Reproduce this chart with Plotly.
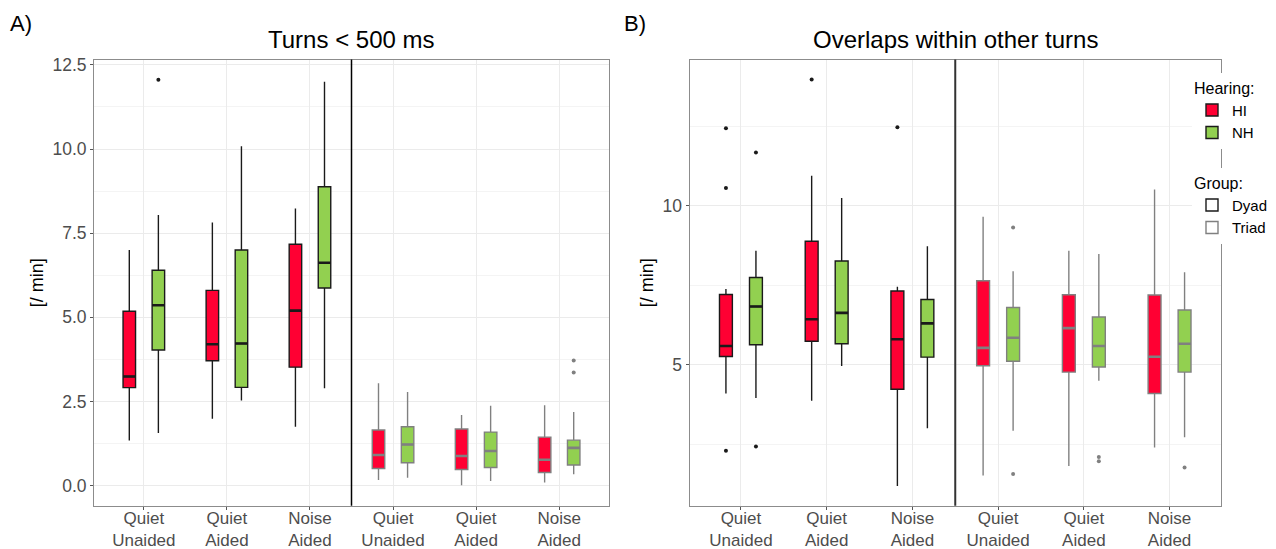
import plotly.graph_objects as go

# ---------------- data ----------------
conditions = ["Quiet Unaided", "Quiet Aided", "Noise Aided"]
tick_text = ["Quiet<br>Unaided", "Quiet<br>Aided", "Noise<br>Aided"]
groups = ["Dyad", "Triad"]
hearing = ["HI", "NH"]

# Panel A: Turns < 500 ms  (lower whisker, Q1, median, Q3, upper whisker)
turns_HI_dyad = dict(low=[1.34, 1.99, 1.75], q1=[2.91, 3.71, 3.52], med=[3.24, 4.20, 5.20],
                     q3=[5.18, 5.80, 7.17], high=[7.00, 7.82, 8.23])
turns_NH_dyad = dict(low=[1.56, 2.53, 2.89], q1=[4.03, 2.92, 5.87], med=[5.36, 4.22, 6.62],
                     q3=[6.40, 7.00, 8.88], high=[8.04, 10.08, 12.00])
turns_HI_triad = dict(low=[0.17, 0.01, 0.09], q1=[0.51, 0.48, 0.39], med=[0.91, 0.88, 0.77],
                      q3=[1.65, 1.68, 1.44], high=[3.04, 2.10, 2.39])
turns_NH_triad = dict(low=[0.23, 0.14, 0.34], q1=[0.68, 0.54, 0.61], med=[1.22, 1.03, 1.12],
                      q3=[1.75, 1.59, 1.35], high=[2.78, 2.37, 2.19])
turns_HI_dyad_out = []
turns_NH_dyad_out = [("Quiet Unaided", 12.06)]
turns_HI_triad_out = []
turns_NH_triad_out = [("Noise Aided", 3.72), ("Noise Aided", 3.36)]

# Panel B: Overlaps within other turns
overl_HI_dyad = dict(low=[4.10, 3.87, 1.19], q1=[5.26, 5.74, 4.23], med=[5.59, 6.43, 5.80],
                     q3=[7.21, 8.88, 7.32], high=[7.38, 10.94, 7.45])
overl_NH_dyad = dict(low=[3.96, 4.96, 3.01], q1=[5.63, 5.66, 5.24], med=[6.83, 6.63, 6.30],
                     q3=[7.74, 8.26, 7.05], high=[8.58, 10.24, 8.72])
overl_HI_triad = dict(low=[1.52, 1.82, 2.40], q1=[4.97, 4.77, 4.10], med=[5.53, 6.15, 5.25],
                      q3=[7.64, 7.20, 7.19], high=[9.65, 8.58, 10.51])
overl_NH_triad = dict(low=[2.93, 4.50, 2.72], q1=[5.11, 4.93, 4.77], med=[5.85, 5.59, 5.66],
                      q3=[6.80, 6.50, 6.72], high=[7.94, 8.48, 7.91])
overl_HI_dyad_out = [("Quiet Unaided", 12.43), ("Quiet Unaided", 10.55), ("Quiet Unaided", 2.30),
                     ("Quiet Aided", 13.96), ("Noise Aided", 12.46)]
overl_NH_dyad_out = [("Quiet Unaided", 11.67), ("Quiet Unaided", 2.43)]
overl_HI_triad_out = []
overl_NH_triad_out = [("Quiet Unaided", 9.31), ("Quiet Unaided", 1.57),
                      ("Quiet Aided", 2.10), ("Quiet Aided", 1.97), ("Noise Aided", 1.77)]

panel_titles = ["Turns < 500 ms", "Overlaps within other turns"]
panel_tags = ["A)", "B)"]
y_title = "[/ min]"

# ---------------- styling ----------------
FONT = "Liberation Sans, Arial, Helvetica, sans-serif"
HEAR_FILL = {"HI": "#FF0033", "NH": "#92D050"}
GROUP_EDGE = {"Dyad": "#1A1A1A", "Triad": "#808080"}
PAGE_OFF = 8                      # default body margin of the html page
W, H = 1276 - PAGE_OFF, 549 - PAGE_OFF


def px_x(X):
    return (X - PAGE_OFF) / W


def px_y(Y):
    return 1 - (Y - PAGE_OFF) / H


def cat(group, cond):
    return f"{group}: {cond}"


categories = [cat(g, c) for g in groups for c in conditions]

fig = go.Figure()

panels = [
    ("x", "y", {("HI", "Dyad"): (turns_HI_dyad, turns_HI_dyad_out),
                ("NH", "Dyad"): (turns_NH_dyad, turns_NH_dyad_out),
                ("HI", "Triad"): (turns_HI_triad, turns_HI_triad_out),
                ("NH", "Triad"): (turns_NH_triad, turns_NH_triad_out)}),
    ("x2", "y2", {("HI", "Dyad"): (overl_HI_dyad, overl_HI_dyad_out),
                  ("NH", "Dyad"): (overl_NH_dyad, overl_NH_dyad_out),
                  ("HI", "Triad"): (overl_HI_triad, overl_HI_triad_out),
                  ("NH", "Triad"): (overl_NH_triad, overl_NH_triad_out)}),
]

for xa, ya, series in panels:
    for (hear, grp), (st, outl) in series.items():
        xs = [cat(grp, c) for c in conditions]
        edge = GROUP_EDGE[grp]
        fig.add_trace(go.Box(
            x=xs, q1=st["q1"], median=st["med"], q3=st["q3"],
            lowerfence=st["low"], upperfence=st["high"],
            name=hear, fillcolor=HEAR_FILL[hear], line=dict(color=edge, width=1.4),
            whiskerwidth=0, boxpoints=False, offsetgroup=hear,
            xaxis=xa, yaxis=ya, legend="legend",
            showlegend=(xa == "x" and grp == "Dyad")))
        # thicker median bar (as in ggplot)
        fig.add_trace(go.Box(
            x=xs, q1=st["med"], median=st["med"], q3=st["med"],
            lowerfence=st["med"], upperfence=st["med"],
            fillcolor="rgba(0,0,0,0)", line=dict(color=edge, width=2.6),
            whiskerwidth=0, boxpoints=False, offsetgroup=hear,
            xaxis=xa, yaxis=ya, showlegend=False, hoverinfo="skip"))
        if outl:
            fig.add_trace(go.Box(
                x=[cat(grp, c) for c, v in outl], y=[v for c, v in outl],
                boxpoints="all", jitter=0, pointpos=0,
                fillcolor="rgba(0,0,0,0)", line=dict(width=0, color=edge),
                marker=dict(color=edge, size=4), whiskerwidth=0,
                offsetgroup=hear, xaxis=xa, yaxis=ya, showlegend=False))

# legend entries for group (outline colour), on a hidden helper axis
for grp in groups:
    fig.add_trace(go.Box(y=[None], name=grp, fillcolor="white",
                         line=dict(color=GROUP_EDGE[grp], width=1.4),
                         xaxis="x3", yaxis="y3", legend="legend2", showlegend=True))

# ---------------- layout ----------------
ydom = [px_y(505.8), px_y(59.5)]
xdom1 = [px_x(94), px_x(609)]
xdom2 = [px_x(689.5), px_x(1221)]

common_x = dict(type="category", categoryorder="array", categoryarray=categories,
                tickmode="array", tickvals=categories, ticktext=tick_text * 2,
                range=[-0.6, 5.6], showgrid=True, gridcolor="#EBEBEB", gridwidth=1,
                ticks="outside", ticklen=3, tickcolor="#555555", tickwidth=1,
                ticklabelstandoff=-6,
                showline=True, mirror=True, linecolor="#8C8C8C", linewidth=1,
                tickfont=dict(family=FONT, size=17, color="#4D4D4D"),
                zeroline=False, automargin=False)
common_y = dict(showgrid=True, gridcolor="#EBEBEB", gridwidth=1,
                ticks="outside", ticklen=3, tickcolor="#555555", tickwidth=1,
                showline=True, mirror=True, linecolor="#8C8C8C", linewidth=1,
                tickfont=dict(family=FONT, size=17.5, color="#4D4D4D"),
                zeroline=False, automargin=False,
                title=dict(text=y_title, font=dict(family=FONT, size=18, color="black"), standoff=4))

fig.update_layout(
    width=W, height=H, margin=dict(l=0, r=0, t=0, b=0),
    paper_bgcolor="white", plot_bgcolor="white",
    font=dict(family=FONT, color="black"),
    boxmode="group", boxgap=0.3, boxgroupgap=0.57,
    xaxis=dict(domain=xdom1, anchor="y", **common_x),
    xaxis2=dict(domain=xdom2, anchor="y2", **common_x),
    yaxis=dict(domain=ydom, anchor="x", range=[-0.6, 12.66], tickmode="linear", tick0=0, dtick=2.5,
               tickformat=".1f",
               minor=dict(tickmode="linear", tick0=0, dtick=1.25, showgrid=True,
                          gridcolor="#F4F4F4", gridwidth=1, ticks=""),
               **common_y),
    yaxis2=dict(domain=ydom, anchor="x2", range=[0.57, 14.59], tickmode="array", tickvals=[5, 10],
                minor=dict(tickmode="array", tickvals=[2.5, 7.5, 12.5], showgrid=True,
                           gridcolor="#F4F4F4", gridwidth=1, ticks=""),
                **common_y),
    xaxis3=dict(domain=[0, 0.001], anchor="y3", visible=False),
    yaxis3=dict(domain=[0, 0.001], anchor="x3", visible=False),
    legend=dict(title=dict(text="Hearing:", font=dict(family=FONT, size=16, color="black")),
                font=dict(family=FONT, size=15, color="black"),
                x=px_x(1192), y=px_y(73), xanchor="left", yanchor="top",
                bgcolor="white", borderwidth=0, tracegroupgap=0),
    legend2=dict(title=dict(text="Group:", font=dict(family=FONT, size=16, color="black")),
                 font=dict(family=FONT, size=15, color="black"),
                 x=px_x(1192), y=px_y(168), xanchor="left", yanchor="top",
                 bgcolor="white", borderwidth=0, tracegroupgap=0),
    shapes=[
        dict(type="line", xref="x", yref="y domain", x0=2.5, x1=2.5, y0=0, y1=1,
             line=dict(color="black", width=1.5)),
        dict(type="line", xref="x2", yref="y2 domain", x0=2.5, x1=2.5, y0=0, y1=1,
             line=dict(color="#333333", width=2)),
    ],
    annotations=[
        dict(text=panel_tags[0], xref="paper", yref="paper", x=px_x(8), y=px_y(23.5),
             xanchor="left", yanchor="middle", showarrow=False,
             font=dict(family=FONT, size=22, color="black")),
        dict(text=panel_tags[1], xref="paper", yref="paper", x=px_x(622), y=px_y(23.5),
             xanchor="left", yanchor="middle", showarrow=False,
             font=dict(family=FONT, size=22, color="black")),
        dict(text=panel_titles[0], xref="paper", yref="paper", x=px_x(351.5), y=px_y(40),
             xanchor="center", yanchor="middle", showarrow=False,
             font=dict(family=FONT, size=24, color="black")),
        dict(text=panel_titles[1], xref="paper", yref="paper", x=px_x(955), y=px_y(40),
             xanchor="center", yanchor="middle", showarrow=False,
             font=dict(family=FONT, size=24, color="black")),
    ],
)

fig.write_html("out.html")
